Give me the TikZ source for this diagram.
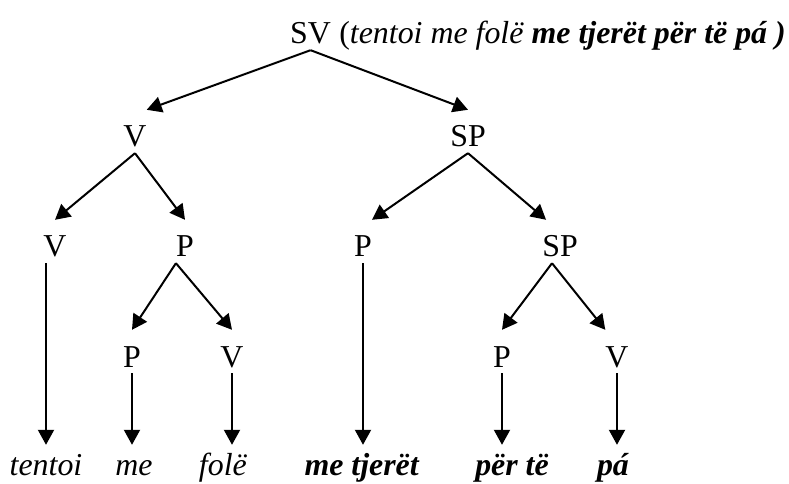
\documentclass[tikz,border=0pt]{standalone}
\usepackage{fontspec}
\setmainfont{Liberation Serif}
\usetikzlibrary{arrows.meta,calc}
\begin{document}
\begin{tikzpicture}[x=1bp,y=-1bp,
  lbl/.style={anchor=base,inner xsep=0pt,inner ysep=6bp,text height=31bp,text depth=0pt,font=\fontsize{32}{38}\selectfont},
  word/.style={anchor=base,inner xsep=0pt,inner ysep=6bp,text height=24bp,text depth=0pt,font=\fontsize{32}{38}\selectfont},
  arr/.style={line width=2bp,-{Triangle[length=15bp,width=16bp]}}]
\useasboundingbox (0,0) rectangle (789,484);
% root
\node[lbl,anchor=base west,inner ysep=6bp,text height=22bp] (sv) at (290,44) {SV};
\node[anchor=base west,inner sep=0pt,font=\fontsize{32}{38}\selectfont] (gloss) at (sv.base east) {\ (\textit{tentoi me folë} \textbf{\textit{me tjerët për të pá )}}};
% level 1
\node[lbl] (v1) at (135,147) {V};
\node[lbl] (sp1) at (468,147) {SP};
% level 2
\node[lbl] (v2) at (55,257) {V};
\node[lbl] (p2) at (185,257) {P};
\node[lbl] (p2b) at (363,257) {P};
\node[lbl] (sp2) at (560,257) {SP};
% level 3
\node[lbl] (p3) at (132,367) {P};
\node[lbl] (v3) at (232,367) {V};
\node[lbl] (p3b) at (502,367) {P};
\node[lbl] (v3b) at (617,367) {V};
% words
\node[word] (w1) at (46,475) {\textit{tentoi}};
\node[word] (w2) at (134,475) {\textit{me}};
\node[word] (w3) at (223,475) {\textit{folë}};
\node[word] (w4) at (362,475) {\textbf{\textit{me tjerët}}};
\node[word] (w5) at (512,475) {\textbf{\textit{për të}}};
\node[word] (w6) at (613,475) {\textbf{\textit{pá}}};
% connectors
\draw[arr] (sv.south) -- (v1.north east);
\draw[arr] (sv.south) -- (sp1.north);
\draw[arr] (v1.south) -- (v2.north);
\draw[arr] (v1.south) -- (p2.north);
\draw[arr] (sp1.south) -- (p2b.north east);
\draw[arr] (sp1.south) -- ([xshift=4bp]sp2.north west);
\draw[arr] (p2.south west) -- (p3.north);
\draw[arr] (p2.south west) -- (v3.north);
\draw[arr] ([xshift=-8bp]sp2.south) -- (p3b.north);
\draw[arr] ([xshift=-8bp]sp2.south) -- (v3b.north west);
\draw[arr] (w1.north |- v2.south) -- (w1.north);
\draw[arr] (p3.south) -- (p3.south |- w2.north);
\draw[arr] (v3.south) -- (v3.south |- w3.north);
\draw[arr] (p2b.south) -- (p2b.south |- w4.north);
\draw[arr] (p3b.south) -- (p3b.south |- w5.north);
\draw[arr] (v3b.south) -- (v3b.south |- w6.north);
\end{tikzpicture}
\end{document}
